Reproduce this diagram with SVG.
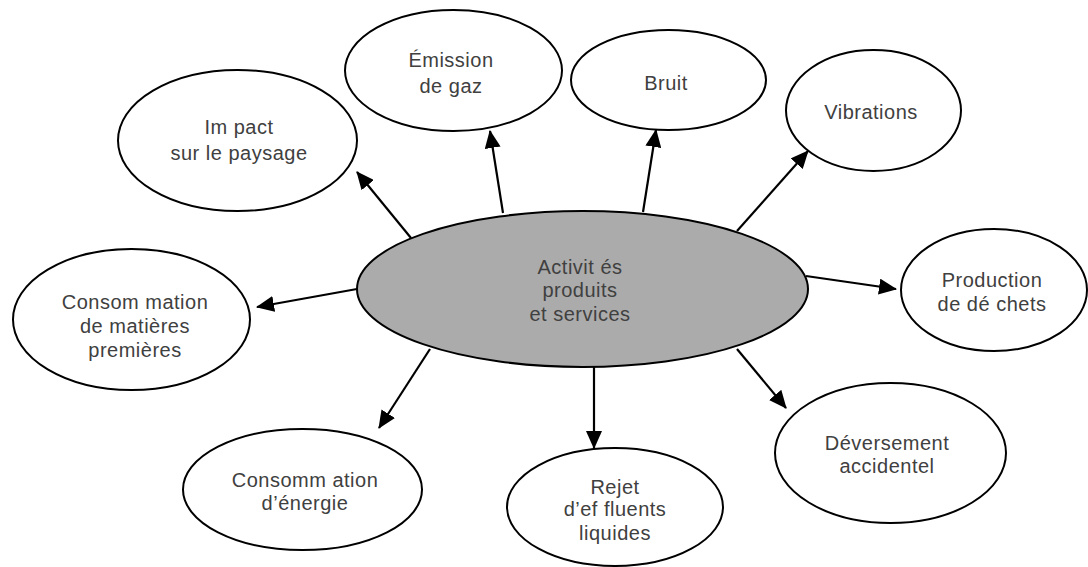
<svg xmlns="http://www.w3.org/2000/svg" width="1088" height="567" viewBox="0 0 1088 567">
<style>
.n{fill:#fff;stroke:#000;stroke-width:2}
.c{fill:#ababab;stroke:#000;stroke-width:2}
text{font-family:"Liberation Sans",Arial,sans-serif;font-size:20px;letter-spacing:0.5px;fill:#404040;text-anchor:middle}
.e{stroke:#000;stroke-width:2.2;fill:none;marker-end:url(#ah)}
</style>
<defs>
<marker id="ah" markerUnits="userSpaceOnUse" markerWidth="18" markerHeight="16" viewBox="0 0 18 16" refX="17" refY="8" orient="auto">
<path d="M0,0 L18,8 L0,16 z" fill="#000"/>
</marker>
</defs>
<rect width="1088" height="567" fill="#fff"/>
<g id="connectors">
<line class="e" x1="411" y1="238" x2="357" y2="172"/>
<line class="e" x1="503" y1="213" x2="490" y2="131"/>
<line class="e" x1="643" y1="212" x2="656" y2="130"/>
<line class="e" x1="737" y1="231" x2="808" y2="151"/>
<line class="e" x1="806" y1="276" x2="896" y2="289"/>
<line class="e" x1="737" y1="349" x2="786" y2="408"/>
<line class="e" x1="594" y1="367" x2="594" y2="448"/>
<line class="e" x1="430" y1="349" x2="379" y2="428"/>
<line class="e" x1="357" y1="289" x2="257" y2="307"/>
</g>
<g id="center">
<ellipse class="c" cx="582.5" cy="289" rx="225.5" ry="78"/>
<text x="580" y="274">Activit és</text>
<text x="580" y="297">produits</text>
<text x="580" y="321">et services</text>
</g>
<g id="impact">
<ellipse class="n" cx="237.5" cy="140.5" rx="119.5" ry="70.5"/>
<text x="239" y="134">Im pact</text>
<text x="239" y="160">sur le paysage</text>
</g>
<g id="emission">
<ellipse class="n" cx="453.5" cy="70.5" rx="108.5" ry="60.5"/>
<text x="451" y="67">Émission</text>
<text x="451" y="93">de gaz</text>
</g>
<g id="bruit">
<ellipse class="n" cx="668.5" cy="80" rx="97.5" ry="50"/>
<text x="666" y="90">Bruit</text>
</g>
<g id="vibrations">
<ellipse class="n" cx="873.5" cy="110.5" rx="87.5" ry="60.5"/>
<text x="871" y="119">Vibrations</text>
</g>
<g id="production">
<ellipse class="n" cx="994" cy="290" rx="93" ry="61"/>
<text x="992" y="287">Production</text>
<text x="992" y="311">de dé chets</text>
</g>
<g id="deversement">
<ellipse class="n" cx="890.5" cy="453" rx="115.5" ry="70"/>
<text x="887" y="450">Déversement</text>
<text x="887" y="473">accidentel</text>
</g>
<g id="rejet">
<ellipse class="n" cx="615" cy="507" rx="108" ry="59"/>
<text x="615" y="494">Rejet</text>
<text x="615" y="516">d’ef fluents</text>
<text x="615" y="540">liquides</text>
</g>
<g id="energie">
<ellipse class="n" cx="302.5" cy="489.5" rx="119.5" ry="60.5"/>
<text x="305" y="487">Consomm ation</text>
<text x="305" y="510">d’énergie</text>
</g>
<g id="matieres">
<ellipse class="n" cx="131.5" cy="319.5" rx="118.5" ry="70.5"/>
<text x="135" y="309">Consom mation</text>
<text x="135" y="333">de matières</text>
<text x="135" y="357">premières</text>
</g>
</svg>
